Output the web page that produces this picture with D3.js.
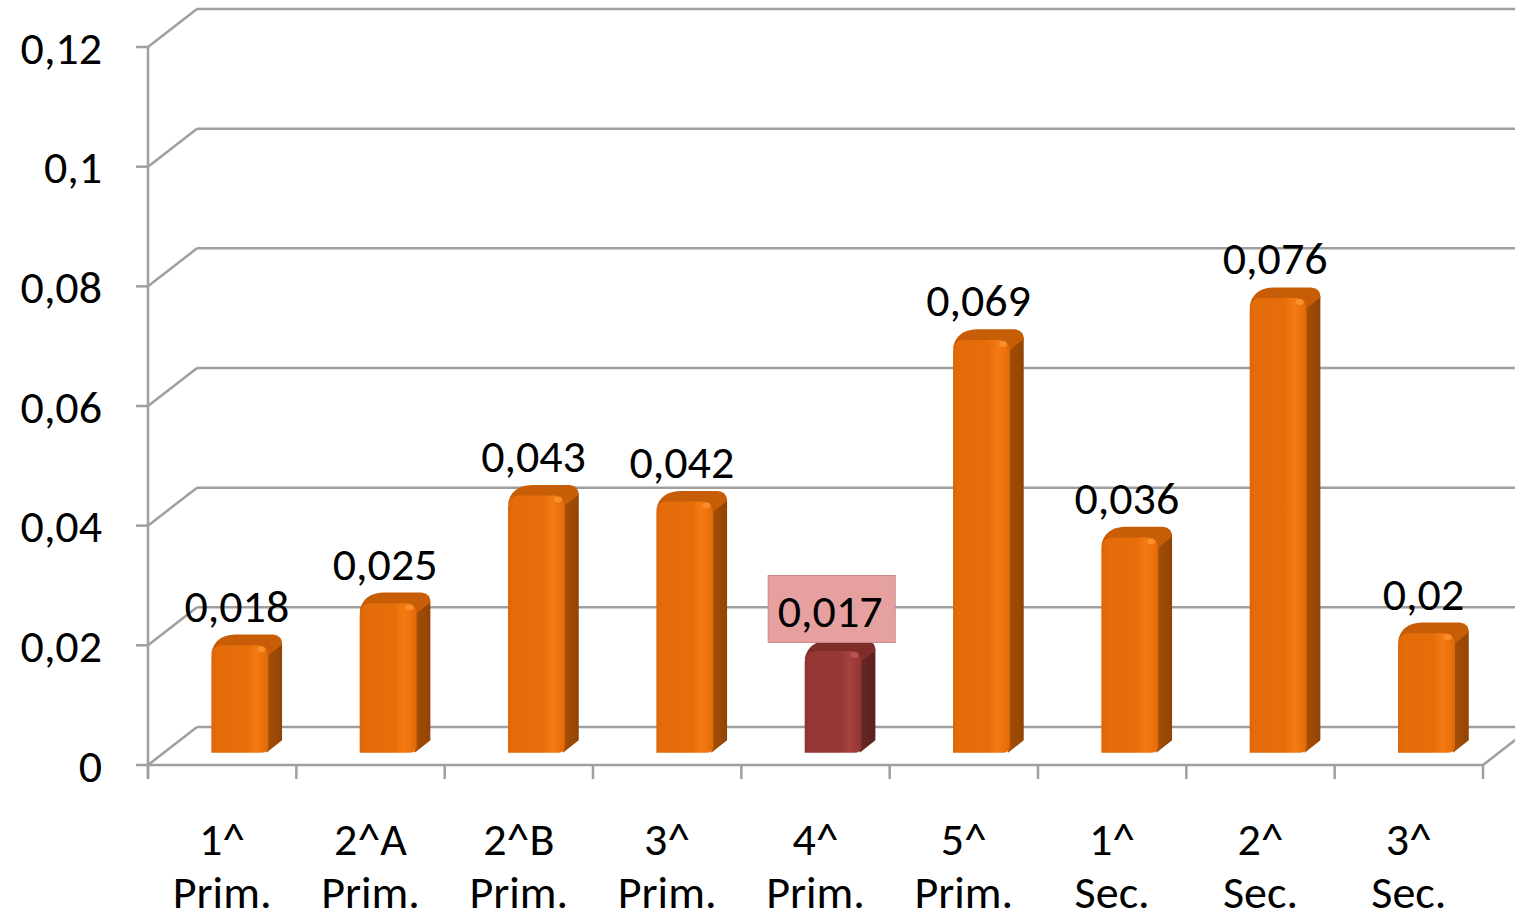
<!DOCTYPE html>
<html>
<head>
<meta charset="utf-8">
<script src="https://cdn.jsdelivr.net/npm/d3@7"></script>
<style>
  html, body { margin: 0; padding: 0; background: #fff; }
  svg text { font-family: Calibri, Carlito, Lato, sans-serif; fill: #000; }
</style>
</head>
<body>
<div id="chart"></div>
<script>
var catLine1 = ['1^', '2^A', '2^B', '3^', '4^', '5^', '1^', '2^', '3^'];
var catLine2 = ['Prim.', 'Prim.', 'Prim.', 'Prim.', 'Prim.', 'Prim.', 'Sec.', 'Sec.', 'Sec.'];
var values = [0.018, 0.025, 0.043, 0.042, 0.017, 0.069, 0.036, 0.076, 0.02];
var valueLabels = ['0,018', '0,025', '0,043', '0,042', '0,017', '0,069', '0,036', '0,076', '0,02'];
var yTicks = [0, 0.02, 0.04, 0.06, 0.08, 0.1, 0.12];
var yTickLabels = ['0', '0,02', '0,04', '0,06', '0,08', '0,1', '0,12'];
var highlighted = 4;

var width = 1515, height = 921;
var DX = 49, DY = -38;       // depth of the 3d box
var f1 = 0.32, f2 = 0.6;     // bar depth (front / back)
var barW = 57;
var gridColor = '#9f9f9f';

var cats = catLine1.map(function(d, i) { return i; });

var x = d3.scaleBand().domain(cats).range([148, 1483]);
var y = d3.scaleLinear().domain([0, 0.12]).range([765, 47]);

var svg = d3.select('#chart').append('svg')
    .attr('width', width)
    .attr('height', height);

var defs = svg.append('defs');

function gradient(id, stops) {
  var g = defs.append('linearGradient').attr('id', id)
      .attr('x1', '0%').attr('x2', '100%').attr('y1', '0%').attr('y2', '0%');
  stops.forEach(function(s) {
    g.append('stop').attr('offset', s[0]).attr('stop-color', s[1]);
  });
}
gradient('frontOrange', [['0%', '#dc6709'], ['10%', '#e46c0a'], ['62%', '#e66d0a'], ['78%', '#f47b12'], ['93%', '#ea700c'], ['100%', '#d9680a']]);
gradient('sideOrange', [['0%', '#a95006'], ['100%', '#924404']]);
gradient('frontRed', [['0%', '#8c3331'], ['10%', '#953735'], ['62%', '#973836'], ['78%', '#a5413e'], ['93%', '#983936'], ['100%', '#8a3230']]);
gradient('sideRed', [['0%', '#6a2826'], ['100%', '#5c211f']]);

// back wall gridlines + left wall diagonals
var grid = svg.append('g');
yTicks.forEach(function(t) {
  grid.append('line')
      .attr('x1', 148 + DX).attr('x2', width + 5)
      .attr('y1', y(t) + DY).attr('y2', y(t) + DY)
      .attr('stroke', gridColor).attr('stroke-width', 2.5);
  grid.append('line')
      .attr('x1', 148).attr('x2', 148 + DX)
      .attr('y1', y(t)).attr('y2', y(t) + DY)
      .attr('stroke', gridColor).attr('stroke-width', 2.5);
});

// floor front edge and right diagonal
grid.append('line')
    .attr('x1', 148).attr('x2', 1483)
    .attr('y1', y(0)).attr('y2', y(0))
    .attr('stroke', gridColor).attr('stroke-width', 2.5);
grid.append('line')
    .attr('x1', 1483).attr('x2', 1483 + DX)
    .attr('y1', y(0)).attr('y2', y(0) + DY)
    .attr('stroke', gridColor).attr('stroke-width', 2.5);

// value axis
grid.append('line')
    .attr('x1', 148).attr('x2', 148)
    .attr('y1', y(0.12)).attr('y2', y(0) + 14)
    .attr('stroke', gridColor).attr('stroke-width', 2.5);
yTicks.forEach(function(t) {
  grid.append('line')
      .attr('x1', 136).attr('x2', 148)
      .attr('y1', y(t)).attr('y2', y(t))
      .attr('stroke', gridColor).attr('stroke-width', 2.5);
});

// category ticks
d3.range(cats.length + 1).forEach(function(i) {
  var xx = 148 + i * x.step();
  grid.append('line')
      .attr('x1', xx).attr('x2', xx)
      .attr('y1', y(0)).attr('y2', y(0) + 14)
      .attr('stroke', gridColor).attr('stroke-width', 2.5);
});

svg.append('g').selectAll('text')
    .data(yTicks)
    .enter()
    .append('text')
      .attr('x', 102)
      .attr('y', function(d) { return y(d); })
      .attr('dy', '0.36em')
      .style('text-anchor', 'end')
      .style('font-size', '46px')
      .text(function(d, i) { return yTickLabels[i]; });

var catText = svg.append('g').selectAll('text')
    .data(cats)
    .enter()
    .append('text')
      .style('text-anchor', 'middle')
      .style('font-size', '46px');
catText.append('tspan')
    .attr('x', function(d) { return x(d) + x.bandwidth() / 2; })
    .attr('y', 855)
    .text(function(d) { return catLine1[d]; });
catText.append('tspan')
    .attr('x', function(d) { return x(d) + x.bandwidth() / 2; })
    .attr('y', 908)
    .text(function(d) { return catLine2[d]; });

// bars
var sdx = (f2 - f1) * DX, sdy = (f2 - f1) * DY;

var bars = svg.append('g').selectAll('g.bar')
    .data(cats)
    .enter()
    .append('g')
      .attr('class', 'bar');

function geom(i) {
  var cx = x(i) + x.bandwidth() / 2 + f1 * DX + 2;
  return {
    cx: cx,
    l: cx - barW / 2,
    r: cx + barW / 2,
    top: y(values[i]) + f1 * DY,
    base: y(0) + f1 * DY
  };
}

// side face
bars.append('path')
    .attr('d', function(i) {
      var g = geom(i);
      return 'M' + (g.r - 4) + ',' + (g.top + 2) +
        'Q' + (g.r + sdx - 4) + ',' + (g.top + sdy - 1) + ' ' + (g.r + sdx) + ',' + (g.top + sdy + 9) +
        'L' + (g.r + sdx) + ',' + (g.base + sdy - 2) +
        'L' + (g.r - 2) + ',' + (g.base) + 'Z';
    })
    .style('fill', function(i) { return i === highlighted ? 'url(#sideRed)' : 'url(#sideOrange)'; });

// top face
bars.append('path')
    .attr('d', function(i) {
      var g = geom(i);
      return 'M' + (g.l) + ',' + (g.top + 8) +
        'Q' + (g.l + 3) + ',' + (g.top + sdy + 1) + ' ' + (g.l + sdx + 10) + ',' + (g.top + sdy) +
        'L' + (g.r + sdx - 9) + ',' + (g.top + sdy) +
        'Q' + (g.r + sdx) + ',' + (g.top + sdy + 1) + ' ' + (g.r + sdx) + ',' + (g.top + sdy + 10) +
        'L' + (g.r) + ',' + (g.top + 10) + 'Z';
    })
    .style('fill', function(i) { return i === highlighted ? '#7e2d2b' : '#c75e07'; });

// front face
bars.append('path')
    .attr('d', function(i) {
      var g = geom(i), rr = 12;
      return 'M' + g.l + ',' + g.base +
        'L' + g.l + ',' + (g.top + rr) +
        'Q' + g.l + ',' + g.top + ' ' + (g.l + rr) + ',' + g.top +
        'L' + (g.r - rr) + ',' + g.top +
        'Q' + g.r + ',' + g.top + ' ' + g.r + ',' + (g.top + rr) +
        'L' + g.r + ',' + (g.base - 6) +
        'Q' + g.r + ',' + g.base + ' ' + (g.r - 8) + ',' + g.base + 'Z';
    })
    .style('fill', function(i) { return i === highlighted ? 'url(#frontRed)' : 'url(#frontOrange)'; });

// small highlight near the top right corner
bars.append('ellipse')
    .attr('cx', function(i) { return geom(i).r - 7; })
    .attr('cy', function(i) { return geom(i).top + 4; })
    .attr('rx', 4).attr('ry', 3)
    .style('fill', function(i) { return i === highlighted ? '#c0605c' : '#ff9a3a'; })
    .style('opacity', 0.7);

// data labels
var labels = svg.append('g').selectAll('g.lbl')
    .data(cats)
    .enter()
    .append('g')
      .attr('class', 'lbl');

labels.filter(function(i) { return i === highlighted; })
    .append('rect')
      .attr('x', function(i) { return geom(i).cx - 65; })
      .attr('y', function(i) { return geom(i).top + sdy - 65; })
      .attr('width', 127)
      .attr('height', 67)
      .style('fill', '#e6a0a0')
      .style('stroke', '#c98a8a')
      .style('stroke-width', 1);

labels.append('text')
    .attr('x', function(i) { return geom(i).cx - 3; })
    .attr('y', function(i) { return geom(i).top + sdy - 13; })
    .style('text-anchor', 'middle')
    .style('font-size', '46px')
    .text(function(i) { return valueLabels[i]; });
</script>
</body>
</html>
